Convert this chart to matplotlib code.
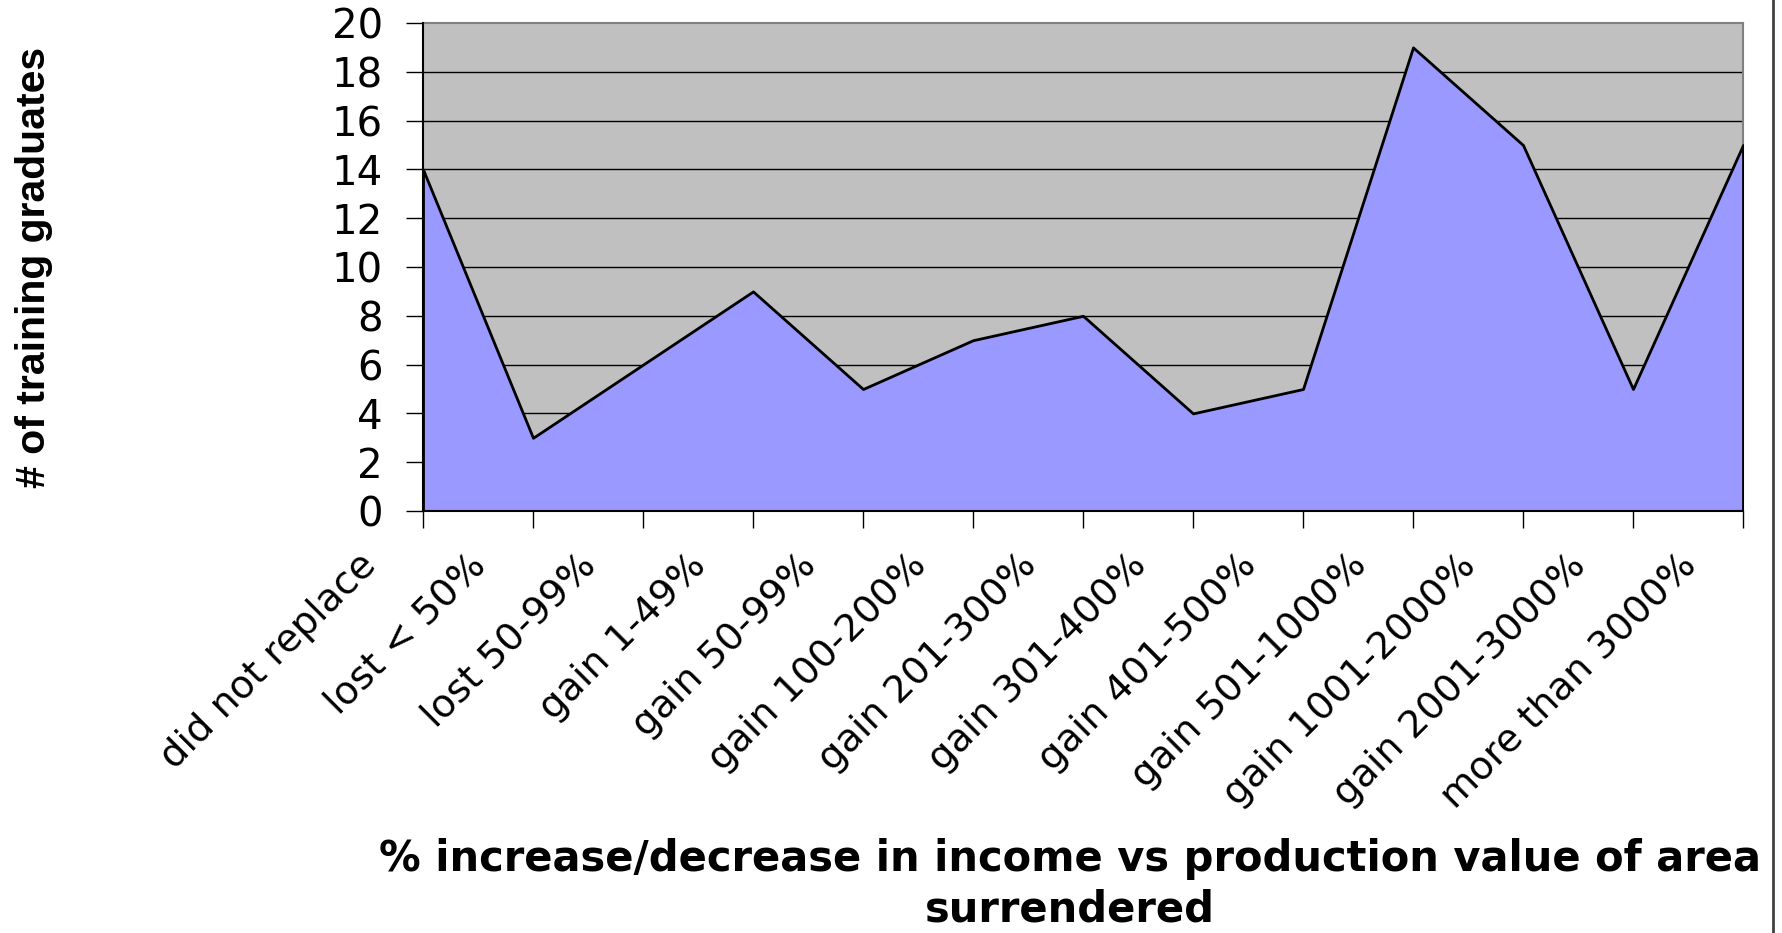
import matplotlib
matplotlib.use('Agg')
import matplotlib.pyplot as plt
import matplotlib.transforms as mtransforms
import numpy as np
from matplotlib.lines import Line2D

# categories and counts
categories = ['did not replace', 'lost < 50%', 'lost 50-99%', 'gain 1-49%', 'gain 50-99%',
              'gain 100-200%', 'gain 201-300%', 'gain 301-400%', 'gain 401-500%',
              'gain 501-1000%', 'gain 1001-2000%', 'gain 2001-3000%', 'more than 3000%']
graduates = [14, 3, 6, 9, 5, 7, 8, 4, 5, 19, 15, 5, 15]
y_ticks = [0, 2, 4, 6, 8, 10, 12, 14, 16, 18, 20]

# the original text is stretched sideways, the wider DejaVu face fits it better
plt.rcParams['font.family'] = ['DejaVu Sans']

W, H = 1782, 933
fig = plt.figure(figsize=(W / 100, H / 100), dpi=100)
ax = fig.add_axes([423 / W, 1 - 511 / H, (1743 - 423) / W, (511 - 23) / H])

x = np.arange(len(categories))
ax.set_facecolor('#C0C0C0')
ax.fill_between(x, graduates, 0, facecolor='#9999FF', edgecolor='black', linewidth=2, zorder=3)
for yv in y_ticks[1:-1]:
    ax.axhline(yv, color='black', linewidth=1, zorder=2)

ax.set_xlim(0, len(categories) - 1)
ax.set_ylim(0, 20)
ax.set_yticks(y_ticks)
ax.tick_params(axis='y', labelsize=29, length=12, width=1, pad=17, direction='out')
ax.tick_params(axis='x', labelsize=27.5, length=12, width=1, pad=14, direction='out')
ax.set_xticks(x)
ax.set_xticklabels(categories, rotation=45, ha='right', va='top', rotation_mode='anchor')
shift = mtransforms.ScaledTranslation(-65 / 100, 0, fig.dpi_scale_trans)
for lab in ax.get_xticklabels():
    lab.set_transform(lab.get_transform() + shift)

for side in ['top', 'right']:
    ax.spines[side].set_color('#808080')
    ax.spines[side].set_linewidth(1.5)
for side in ['left', 'bottom']:
    ax.spines[side].set_color('black')
    ax.spines[side].set_linewidth(1.5)
    ax.spines[side].set_zorder(4)

fig.text(34 / W, 1 - 267 / H, '# of training graduates', rotation=90, ha='center', va='center',
         fontsize=29.5, fontweight='bold', family=['Liberation Sans'])
fig.text(1070 / W, 1 - 884 / H, '% increase/decrease in income vs production value of area\nsurrendered',
         ha='center', va='center', fontsize=30, fontweight='bold', linespacing=1.25)

# right edge frame line
fig.add_artist(Line2D([1773 / W, 1773 / W], [0, 1], color='#404040', linewidth=2))

fig.savefig('out.png', dpi=100)
